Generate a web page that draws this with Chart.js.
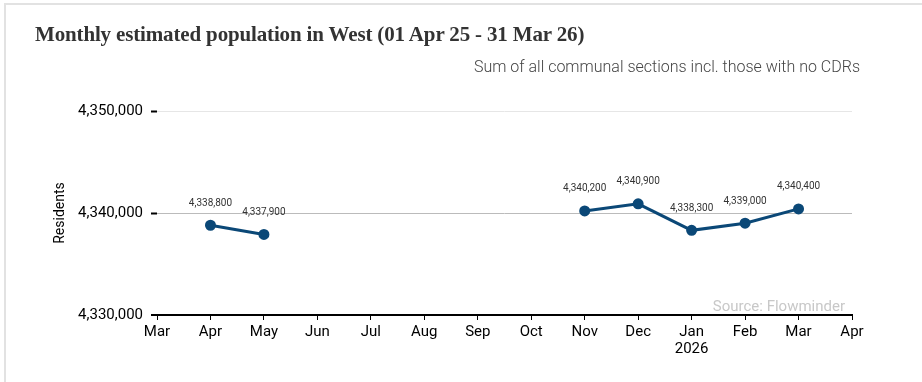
<!DOCTYPE html>
<html>
<head>
<meta charset="utf-8">
<script src="https://cdn.jsdelivr.net/npm/chart.js@4"></script>
<style>
  html, body { margin: 0; padding: 0; background: #fff; }
  #wrap { position: relative; width: 922px; height: 382px; overflow: hidden; }
  #card { position: absolute; left: 4px; top: 3px; right: 0; bottom: -10px;
          border-top: 2px solid #e2e2e2; border-left: 2px solid #e2e2e2; }
  #title { position: absolute; left: 35px; top: 22px; font-family: "Liberation Serif", serif;
           font-weight: bold; font-size: 21px; letter-spacing: -0.15px; color: #333; white-space: nowrap; }
  #subtitle { position: absolute; right: 62px; top: 57px; font-family: Roboto, sans-serif;
              font-weight: 300; font-size: 16px; color: #444; white-space: nowrap; }
  canvas { position: absolute; left: 0; top: 0; }
</style>
</head>
<body>
<div id="wrap">
  <div id="card"></div>
  <canvas id="c" width="922" height="382"></canvas>
  <div id="title">Monthly estimated population in West (01 Apr 25 - 31 Mar 26)</div>
  <div id="subtitle">Sum of all communal sections incl. those with no CDRs</div>
</div>
<script>
// Month axis from Mar 2025 to Apr 2026; months without an estimate are null
const months = ['Mar', 'Apr', 'May', 'Jun', 'Jul', 'Aug', 'Sep', 'Oct', 'Nov', 'Dec', ['Jan', '2026'], 'Feb', 'Mar', 'Apr'];
const residents = [null, 4338800, 4337900, null, null, null, null, null, 4340200, 4340900, 4338300, 4339000, 4340400, null];
const yTicks = [4330000, 4340000, 4350000];
const sourceNote = 'Source: Flowminder';

const fmt = v => v.toLocaleString('en-US');

// Writes each point's value above it, and the source note at the bottom right of the plot
const valueLabels = {
  id: 'valueLabels',
  afterDatasetsDraw(chart) {
    const ctx = chart.ctx;
    const meta = chart.getDatasetMeta(0);
    ctx.save();
    ctx.font = '10px Roboto, sans-serif';
    ctx.fillStyle = '#333';
    ctx.textAlign = 'center';
    ctx.textBaseline = 'middle';
    meta.data.forEach((pt, i) => {
      const v = residents[i];
      if (v === null) return;
      ctx.fillText(fmt(v), pt.x, pt.y - 22);
    });
    const area = chart.chartArea;
    ctx.font = '15px Roboto, sans-serif';
    ctx.fillStyle = '#c8c8c8';
    ctx.textAlign = 'right';
    ctx.textBaseline = 'alphabetic';
    ctx.fillText(sourceNote, area.right - 7, area.bottom - 4);
    ctx.restore();
  }
};

new Chart(document.getElementById('c'), {
  type: 'line',
  data: {
    labels: months,
    datasets: [{
      data: residents,
      borderColor: '#0b4877',
      backgroundColor: '#0b4877',
      borderWidth: 3,
      pointRadius: 4,
      pointHoverRadius: 4,
      spanGaps: false,
      tension: 0
    }]
  },
  options: {
    responsive: false,
    animation: false,
    layout: { padding: { left: 0, right: 70, top: 111, bottom: 0 } },
    plugins: { legend: { display: false }, tooltip: { enabled: false } },
    scales: {
      x: {
        type: 'category',
        offset: false,
        grid: { drawOnChartArea: false, drawTicks: true, tickLength: 5, tickColor: '#000', tickWidth: 1 },
        border: { display: true, color: '#000', width: 2 },
        ticks: { color: '#000', font: { family: 'Roboto', size: 15, lineHeight: 1.1 }, padding: 4, maxRotation: 0, autoSkip: false },
        afterFit(scale) { scale.height = 67; }
      },
      y: {
        min: 4330000,
        max: 4350000,
        afterBuildTicks(scale) { scale.ticks = yTicks.map(v => ({ value: v })); },
        grid: {
          color: c => c.tick && c.tick.value === 4340000 ? '#bbbbbb' : (c.tick && c.tick.value === 4330000 ? '#000' : '#e6e6e6'),
          lineWidth: c => c.tick && c.tick.value === 4330000 ? 0 : 1,
          tickLength: 6,
          tickColor: '#000',
          tickWidth: 2
        },
        border: { display: false },
        ticks: { color: '#000', font: { family: 'Roboto', size: 15 }, padding: 8, callback: v => fmt(v) },
        title: { display: true, text: 'Residents', color: '#000', font: { family: 'Roboto', size: 14 }, padding: { top: 52, bottom: 0 } },
        afterFit(scale) { scale.width = 157; }
      }
    }
  },
  plugins: [valueLabels]
});
</script>
</body>
</html>
